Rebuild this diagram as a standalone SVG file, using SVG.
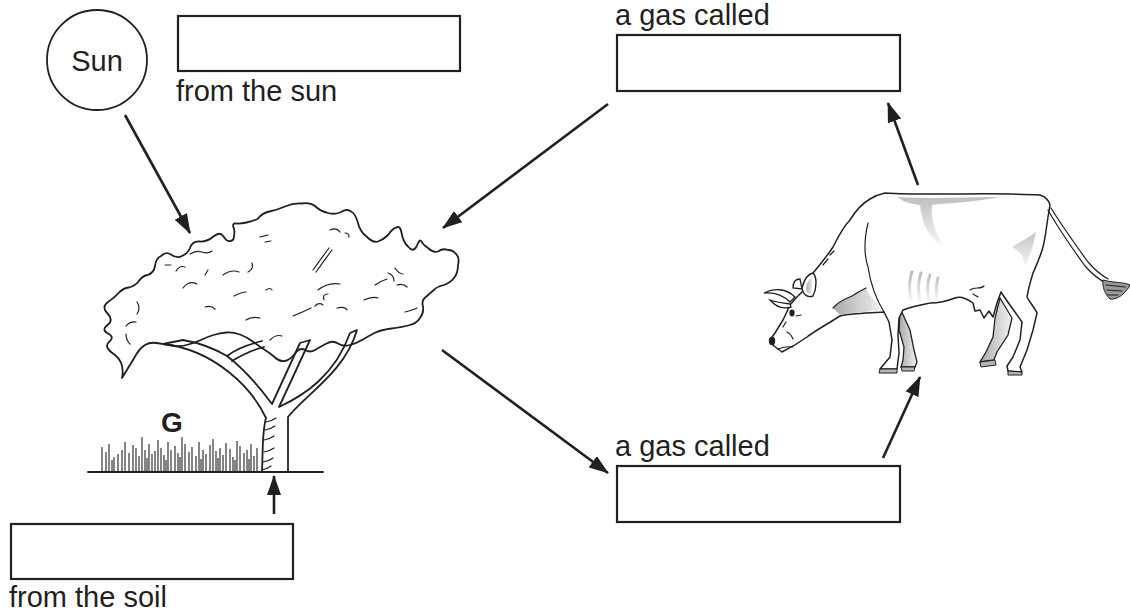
<svg xmlns="http://www.w3.org/2000/svg" width="1130" height="616" viewBox="0 0 1130 616">
<style>
.t{font-family:"Liberation Sans",Arial,Helvetica,sans-serif;font-size:29px;fill:#231f20}
.box{fill:#fff;stroke:#231f20;stroke-width:2.2}
.ln{fill:none;stroke:#231f20;stroke-width:1.8;stroke-linejoin:round;stroke-linecap:round}
.thin{fill:none;stroke:#231f20;stroke-width:1.2;stroke-linecap:round}
.arr{fill:none;stroke:#231f20;stroke-width:2.6}
.grass{stroke:#222;stroke-width:1.1}
.hoof{fill:#b5b5b5;stroke:#231f20;stroke-width:1}
.rib{fill:none;stroke:url(#gv);stroke-width:3;stroke-linecap:round}
</style>
<defs>
<marker id="ah" viewBox="0 0 20 14" refX="19" refY="7" markerWidth="20" markerHeight="14" markerUnits="userSpaceOnUse" orient="auto">
<path d="M0,0 L20,7 L0,14 Z" fill="#231f20"/>
</marker>
<linearGradient id="gr" x1="0" y1="0" x2="1" y2="0">
<stop offset="0" stop-color="#a8a8a8"/>
<stop offset="1" stop-color="#f2f2f2"/>
</linearGradient>
<linearGradient id="gv" x1="0" y1="0" x2="0" y2="1">
<stop offset="0" stop-color="#b8b8b8"/>
<stop offset="1" stop-color="#f6f6f6"/>
</linearGradient>
<linearGradient id="gr2" x1="0" y1="1" x2="0" y2="0">
<stop offset="0" stop-color="#bdbdbd"/>
<stop offset="1" stop-color="#ffffff"/>
</linearGradient>
</defs>
<rect width="1130" height="616" fill="#fff"/>

<g id="sun">
<circle cx="97" cy="60" r="50" fill="#fff" stroke="#231f20" stroke-width="1.8"/>
<text class="t" x="97" y="71" text-anchor="middle">Sun</text>
</g>

<g id="box-sun">
<rect class="box" x="178" y="16" width="282" height="55"/>
<text class="t" x="176" y="101">from the sun</text>
</g>

<g id="box-gas-top">
<text class="t" x="615" y="25">a gas called</text>
<rect class="box" x="617" y="35" width="283" height="56"/>
</g>

<g id="box-gas-bottom">
<text class="t" x="615" y="456">a gas called</text>
<rect class="box" x="617" y="466" width="283" height="56"/>
</g>

<g id="box-soil">
<rect class="box" x="11" y="524" width="282" height="55"/>
<text class="t" x="9" y="607">from the soil</text>
</g>

<g id="tree">
<path class="ln" fill="#fff" d="M122,378 Q125,363 115,355 Q103,347 109,342 Q115,337 108,333.5 Q101,330 107.5,325 Q114,320 107.5,313.5 Q101,307 108,302 Q115,297 118,293.5 Q123,288 129,287.5 Q135,286 138.5,281.5 Q142,276 147.5,275 Q154,273 155,266 Q156,258 161,256 Q166,251 171,254.5 Q177,259 182,256 Q188,253 189.5,249 Q192,241 199.5,241.5 Q207,242 213.5,236.5 Q220,231 223.5,236.5 Q227,242 230,241 Q234,241 234,236 Q235,230 233.5,227.5 Q232,223 236,223.5 Q240,224 246.5,222.5 Q253,221 257.5,219 Q262,213 269.5,211.5 Q277,210 285,206.5 Q293,203 301.5,203.5 Q310,202 315,206 Q320,211 326.5,212.5 Q333,215 340,212.5 Q347,208 351,211.5 Q355,213 357.5,221.5 Q360,232 366.5,236.5 Q373,243 378,241.5 Q383,240 388,235 Q393,228 396.5,227.5 Q400,225 401.5,232.5 Q403,242 408,246.5 Q413,253 416.5,246.5 Q420,238 421.5,241.5 Q423,245 428,248 Q433,253 438,251.5 Q443,248 448,250 Q453,250 455.5,253.5 Q460,257 458,265 Q458,273 454,278 Q450,283 444,285 Q436,287 434,290 Q430,293 426.5,296.5 Q421,300 423,306.5 Q424,313 420,318 Q417,323 410,325 Q403,327 391.5,328.5 Q380,330 373.5,333.5 Q367,337 362,340 Q357,343 350,345 Q343,347 338,343.5 Q333,340 326.5,343.5 Q320,347 315,350 Q310,353 305,350 Q300,347 295,353.5 Q290,360 285,361 Q280,362 275,357.5 Q270,353 265,350 Q260,347 253.5,342 Q247,337 240,334.5 Q233,332 226.5,332.5 Q220,333 213.5,335 Q207,337 202,339.5 Q197,342 188.5,344.5 Q180,347 171.5,345.5 Q163,344 156.5,343 Q150,342 145,345 Q140,348 136.5,354 Q133,360 127.5,369 Z"/>
<!-- trunk and branches -->
<path class="ln" fill="#fff" d="M262,472 C263,450 262,432 266,418 C252,388 215,350 163,344 L183,340 C200,343 215,349 227,356 C240,366 258,385 272,404 L300,343 L310,340 L279,407 C305,395 335,375 350,333 L357,330 C345,372 305,395 288,417 L288,472 Z"/>
<path class="ln" d="M227,356 C236,349 250,344 262,341"/>
<path class="ln" d="M232,361 C242,355 252,350 264,347"/>
<!-- trunk hatches -->
<path class="thin" d="M266,422 q6,-1 10,-4 M265,430 q6,-1 10,-4 M264,440 q6,-1 10,-4 M264,452 q6,-1 10,-4 M263,462 q6,-1 10,-4 M262,470 q5,-1 9,-4"/>
<!-- foliage squiggles -->
<path class="thin" d="M190,254 q6,-4 12,-2 q6,2 10,-1 M137,302 q4,6 0,12 M126,326 q4,-5 10,-4 M165,265 l6,0 M176,271 q4,-6 9,-4 M223,275 q8,-6 16,-3 M252,263 q2,6 -4,9 M260,237 l8,-2 M265,242 l6,-1 M330,230 q6,-3 10,2 M345,233 q4,0 4,4 M318,290 q10,-8 22,-6 M324,300 q-2,-6 4,-6 M183,288 q6,-8 14,-4 M205,307 q6,-2 10,2 M234,296 q8,-4 12,-4 M246,320 q6,-4 14,-2 M270,340 q6,-6 12,-4 M293,316 q10,-4 18,-8 M337,308 q8,-2 10,2 M364,300 q8,-4 14,-2 M375,285 q6,-4 12,-6 M395,268 q4,6 8,6 M397,285 q6,-2 10,2 M405,312 q8,-2 12,-4 M388,273 q6,2 6,8 M205,275 l3,-5 M126,334 q0,6 4,10 M266,290 q4,-3 6,0 M315,306 q4,-4 8,-1"/>
<path class="thin" d="M313,270 q10,-14 16,-22 M316,272 q10,-14 16,-22"/>
<!-- ground -->
<path class="ln" stroke-width="2.4" d="M88,472 L323,472"/>
<!-- grass -->
<path class="grass" d="M102,472 v-25 M106,472 v-20 M109,472 v-28 M114,472 v-15 M118,472 v-18 M122,472 v-22 M125,472 v-30 M129,472 v-19 M133,472 v-27 M136,472 v-24 M139,472 v-16 M142,472 v-35 M145,472 v-22 M149,472 v-28 M152,472 v-18 M155,472 v-21 M158,472 v-32 M161,472 v-24 M164,472 v-17 M168,472 v-30 M171,472 v-22 M175,472 v-26 M178,472 v-19 M182,472 v-35 M185,472 v-28 M189,472 v-20 M192,472 v-25 M196,472 v-16 M199,472 v-30 M203,472 v-22 M206,472 v-18 M210,472 v-27 M213,472 v-33 M216,472 v-21 M220,472 v-24 M223,472 v-17 M226,472 v-29 M230,472 v-23 M233,472 v-15 M237,472 v-31 M240,472 v-26 M244,472 v-19 M247,472 v-22 M251,472 v-28 M254,472 v-16 M257,472 v-24"/>
<path class="grass" stroke="#777" stroke-width="1.6" d="M112,472 v-12 M147,472 v-14 M166,472 v-12 M180,472 v-15 M201,472 v-13 M218,472 v-14 M235,472 v-12 M249,472 v-13"/>
<text class="t" x="161" y="432" font-weight="bold" style="font-size:28px">G</text>
</g>

<g id="cow">
<!-- far hind leg -->
<path d="M1000,298 L1012,318 L1008,335 L997,352 L994,360 L980,362 L986,352 L993,337 L995,318 Z" fill="url(#gr)" stroke="#231f20" stroke-width="1.3"/>
<path class="hoof" d="M980,362 L995,360 L996,365 L981,367 Z"/>
<!-- far front leg -->
<path d="M900,308 L910,330 L914,350 L917,362 L915,367 L901,367 L903,360 L904,347 L899,330 Z" fill="url(#gr)" stroke="#231f20" stroke-width="1.3"/>
<path class="hoof" d="M901,367 L915,367 L914,371 L902,371 Z"/>
<!-- body -->
<path fill="#fff" stroke="#231f20" stroke-width="1.5" stroke-linejoin="round" d="M770,340 L775,333 L783,320 L790,305 L796,298 L803,291 L813,273 C822,262 828,255 833,247 C840,233 845,225 850,220 C856,210 863,203 870,199 C875,196 880,194 885,193 C930,196 990,192 1040,195 C1046,197 1049,200 1050,205 L1048,217 C1046,230 1045,240 1043,247 C1040,258 1036,266 1033,273 C1030,283 1028,290 1027,297 C1030,303 1035,308 1037,313 L1033,330 L1027,350 L1020,367 L1022,372 L1008,371 L1007,366 L1013,357 L1020,340 L1022,322 C1016,313 1008,303 1001,292 L997,303 L993,317 L989,311 L984,318 L980,310 L975,311 L973,303 C966,298 960,296 955,298 C945,302 935,303 930,303 C920,305 910,307 903,310 L899,318 L898,335 L899,353 L897,369 L880,369 L890,357 L892,340 L889,322 L884,312 C870,313 850,313 840,316 L832,321 C822,327 812,333 807,337 C800,342 792,347 782,352 L774,346 Z"/>
<!-- hooves -->
<path class="hoof" d="M880,369 L897,369 L897,373 L879,373 Z"/>
<path class="hoof" d="M1008,371 L1022,372 L1022,375 L1008,375 Z"/>
<!-- shading -->
<path fill="url(#gv)" opacity="0.9" d="M898,197 C930,199 965,197 1000,197 C975,202 950,203 932,205 C930,220 937,235 943,246 C928,238 922,222 920,205 C910,204 903,202 898,197 Z"/>
<path fill="url(#gr)" d="M833,308 C840,300 848,298 852,296 C858,292 862,290 866,288 C870,296 876,304 883,310 C870,312 850,312 840,315 Z"/>
<path class="rib" stroke="url(#gr2)" d="M911,300 C909,290 909,280 912,272 M920,301 C918,291 918,281 921,273 M929,301 C927,291 927,282 930,275 M937,300 C936,292 936,284 938,278"/>
<path fill="url(#gv)" opacity="0.85" d="M1012,247 C1020,242 1030,237 1036,232 C1033,246 1030,258 1024,267 C1025,257 1020,252 1012,247 Z"/>
<!-- inner lines -->
<path class="thin" d="M833,308 C840,300 848,298 852,296 C858,292 862,290 866,288"/>
<path class="thin" d="M868,223 C864,240 864,255 868,267 C870,280 874,296 884,312"/>
<path class="thin" d="M823,265 L828,259 M830,255 L834,251"/>
<path class="thin" d="M970,290 C975,286 980,290 984,286 M973,294 L978,297"/>
<!-- tail -->
<path class="thin" d="M1048,210 C1058,228 1072,248 1085,266 C1092,274 1100,280 1106,283"/>
<path class="thin" d="M1051,208 C1062,226 1075,244 1088,262 C1094,269 1101,275 1108,279"/>
<path d="M1103,280 C1114,283 1124,282 1130,285 C1126,293 1118,300 1110,299 C1105,294 1102,287 1103,280 Z" fill="#999" stroke="#231f20" stroke-width="1"/>
<path class="thin" stroke="#eee" d="M1106,285 L1125,287 M1107,290 L1122,291 M1108,295 L1118,295"/>
<!-- head details -->
<path fill="#fff" stroke="#231f20" stroke-width="1.3" d="M795,297 C786,288 774,288 764,293 C775,292 784,296 790,302 Z"/>
<path fill="#fff" stroke="#231f20" stroke-width="1.3" d="M790,304 C782,303 776,302 770,300 C776,307 784,309 791,307 Z"/>
<path fill="#fff" stroke="#231f20" stroke-width="1.3" d="M793,288 C793,282 796,279 800,279 L802,289 Z"/>
<path fill="#fff" stroke="#231f20" stroke-width="1.4" d="M802,288 C804,280 808,274 813,273 C817,277 817,288 813,296 C808,298 803,295 802,288 Z"/>
<path fill="url(#gr)" d="M806,288 C807,282 809,279 812,278 C813,284 812,290 810,294 C807,293 806,291 806,288 Z"/>
<ellipse cx="792" cy="313" rx="2.6" ry="3.4" fill="#231f20"/>
<ellipse cx="772" cy="341" rx="3.2" ry="4.2" fill="#231f20"/>
<path class="thin" d="M778,349 Q786,346 793,347 M783,327 L786,322 M787,332 Q791,334 793,339 M796,316 L801,315"/>
</g>

<g id="connectors">
<line class="arr" x1="125" y1="115" x2="190" y2="233" marker-end="url(#ah)"/>
<line class="arr" x1="608" y1="104" x2="443" y2="228" marker-end="url(#ah)"/>
<line class="arr" x1="918" y1="185" x2="888" y2="103" marker-end="url(#ah)"/>
<line class="arr" x1="442" y1="350" x2="608" y2="473" marker-end="url(#ah)"/>
<line class="arr" x1="883" y1="458" x2="920" y2="377" marker-end="url(#ah)"/>
<line class="arr" x1="274" y1="514" x2="274" y2="476" marker-end="url(#ah)"/>
</g>
</svg>
